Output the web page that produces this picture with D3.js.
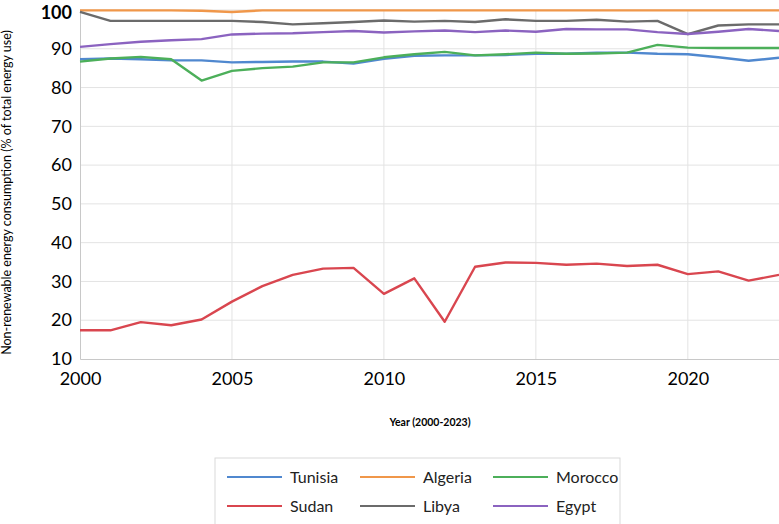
<!DOCTYPE html>
<html>
<head>
<meta charset="utf-8">
<script src="https://cdn.jsdelivr.net/npm/d3@7"></script>
<style>
  body { margin: 0; background: #fff; }
  svg { display: block; font-family: Lato, "Open Sans", sans-serif; }
</style>
</head>
<body>
<div id="canvas"></div>
<script>
var years = d3.range(2000, 2024)

var countries = ["Tunisia", "Algeria", "Morocco", "Sudan", "Libya", "Egypt"]
var colors = ["#5088cf", "#f0974a", "#4caf5a", "#d9464f", "#6b6b6b", "#8b63c0"]

var tunisia = [87.3, 87.5, 87.3, 87.0, 87.0, 86.5, 86.6, 86.7, 86.7, 86.2, 87.4, 88.2, 88.3, 88.3, 88.4, 88.7, 88.7, 89.0, 89.0, 88.7, 88.6, 87.8, 86.9, 87.7]
var algeria = [99.9, 99.9, 99.9, 99.9, 99.8, 99.5, 99.9, 99.9, 99.9, 99.9, 99.9, 99.9, 99.9, 99.9, 99.9, 99.9, 99.9, 99.9, 99.9, 99.9, 99.9, 99.9, 99.9, 99.9]
var morocco = [86.7, 87.5, 87.9, 87.3, 81.8, 84.3, 85.0, 85.4, 86.5, 86.5, 87.8, 88.6, 89.2, 88.3, 88.6, 89.0, 88.7, 88.8, 89.0, 91.0, 90.3, 90.2, 90.2, 90.2]
var sudan = [17.4, 17.4, 19.5, 18.7, 20.2, 24.8, 28.8, 31.7, 33.3, 33.5, 26.8, 30.8, 19.6, 33.8, 34.9, 34.8, 34.3, 34.6, 34.0, 34.3, 31.9, 32.6, 30.2, 31.7]
var libya = [99.5, 97.2, 97.2, 97.2, 97.2, 97.2, 96.9, 96.3, 96.6, 96.9, 97.3, 97.0, 97.2, 96.9, 97.6, 97.2, 97.2, 97.5, 97.0, 97.2, 93.8, 96.0, 96.3, 96.3]
var egypt = [90.5, 91.2, 91.8, 92.2, 92.5, 93.7, 93.9, 94.0, 94.3, 94.6, 94.2, 94.5, 94.7, 94.3, 94.7, 94.4, 95.1, 95.0, 95.0, 94.3, 93.8, 94.4, 95.1, 94.6]

var seriesValues = [tunisia, algeria, morocco, sudan, libya, egypt]

var yTicks = [10, 20, 30, 40, 50, 60, 70, 80, 90, 100]
var xTicks = [2000, 2005, 2010, 2015, 2020]

var width = 779
var height = 524
var margin = { left: 80, right: 0, top: 10, bottom: 165 }

var svg = d3.select("#canvas")
    .append("svg")
    .attr("width", width)
    .attr("height", height)

var xScale = d3.scaleLinear().domain([2000, 2023]).range([margin.left, width - margin.right])
var yScale = d3.scaleLinear().domain([10, 100]).range([height - margin.bottom, margin.top])

// grid lines
svg.append("g")
    .selectAll("line")
    .data(yTicks.slice(1))
    .enter().append("line")
    .attr("x1", margin.left).attr("x2", width - margin.right)
    .attr("y1", function (d) { return yScale(d) })
    .attr("y2", function (d) { return yScale(d) })
    .attr("stroke", "#e3e3e3")
    .attr("stroke-width", 1)

svg.append("g")
    .selectAll("line")
    .data(xTicks.slice(1))
    .enter().append("line")
    .attr("x1", function (d) { return xScale(d) })
    .attr("x2", function (d) { return xScale(d) })
    .attr("y1", yScale(100)).attr("y2", yScale(10))
    .attr("stroke", "#e3e3e3")
    .attr("stroke-width", 1)

// axes
var yAxis = svg.append("g")
    .attr("transform", `translate(${margin.left},0)`)
    .call(d3.axisLeft(yScale).tickValues(yTicks).tickSize(0).tickPadding(8))
yAxis.select(".domain").attr("stroke", "#c8c8c8")
yAxis.selectAll("text").attr("font-size", 18).attr("fill", "#000").attr("font-family", "Lato, sans-serif")
// top label sits a bit lower so it isn't clipped
yAxis.selectAll("text").filter(function (d) { return d == 100 })
    .attr("font-weight", "bold")
    .attr("y", 3)

var xAxis = svg.append("g")
    .attr("transform", `translate(0,${yScale(10)})`)
    .call(d3.axisBottom(xScale).tickValues(xTicks).tickFormat(d3.format("d")).tickSize(0).tickPadding(13))
xAxis.select(".domain").attr("stroke", "#c8c8c8")
xAxis.selectAll("text").attr("font-size", 18).attr("fill", "#000").attr("font-family", "Lato, sans-serif")

// axis titles
svg.append("text")
    .attr("transform", `translate(11,${(yScale(10) + yScale(100)) / 2 + 8}) rotate(-90)`)
    .attr("text-anchor", "middle")
    .attr("font-size", 12.5)
    .attr("font-family", "\"Liberation Sans Narrow\", Lato, sans-serif")
    .text("Non-renewable energy consumption (% of total energy use)")

svg.append("text")
    .attr("x", 430)
    .attr("y", 426)
    .attr("text-anchor", "middle")
    .attr("font-size", 10.5)
    .attr("font-weight", "bold")
    .attr("font-family", "\"Liberation Sans Narrow\", Lato, sans-serif")
    .text("Year (2000-2023)")

// lines
var line = d3.line()
    .x(function (d, i) { return xScale(years[i]) })
    .y(function (d) { return yScale(d) })

svg.append("g")
    .selectAll("path")
    .data(seriesValues)
    .enter().append("path")
    .attr("d", line)
    .attr("fill", "none")
    .attr("stroke", function (d, i) { return colors[i] })
    .attr("stroke-width", 2.4)
    .attr("stroke-linejoin", "round")

// legend
var legend = svg.append("g")
    .attr("transform", "translate(215,458)")

legend.append("rect")
    .attr("x", 0).attr("y", 0)
    .attr("width", 405).attr("height", 80)
    .attr("fill", "#fff")
    .attr("stroke", "#d9d9d9")

var items = legend.selectAll(".item")
    .data(countries)
    .enter().append("g")
    .attr("class", "item")
    .attr("transform", function (d, i) {
        return `translate(${12 + (i % 3) * 133},${i < 3 ? 19 : 48})`
    })

items.append("line")
    .attr("x1", 0).attr("x2", 55)
    .attr("stroke", function (d, i) { return colors[i] })
    .attr("stroke-width", 1.8)

items.append("text")
    .attr("x", 63)
    .attr("y", 6)
    .attr("font-size", 16)
    .attr("font-family", "Lato, sans-serif")
    .attr("fill", "#222")
    .text(function (d) { return d })
</script>
</body>
</html>
